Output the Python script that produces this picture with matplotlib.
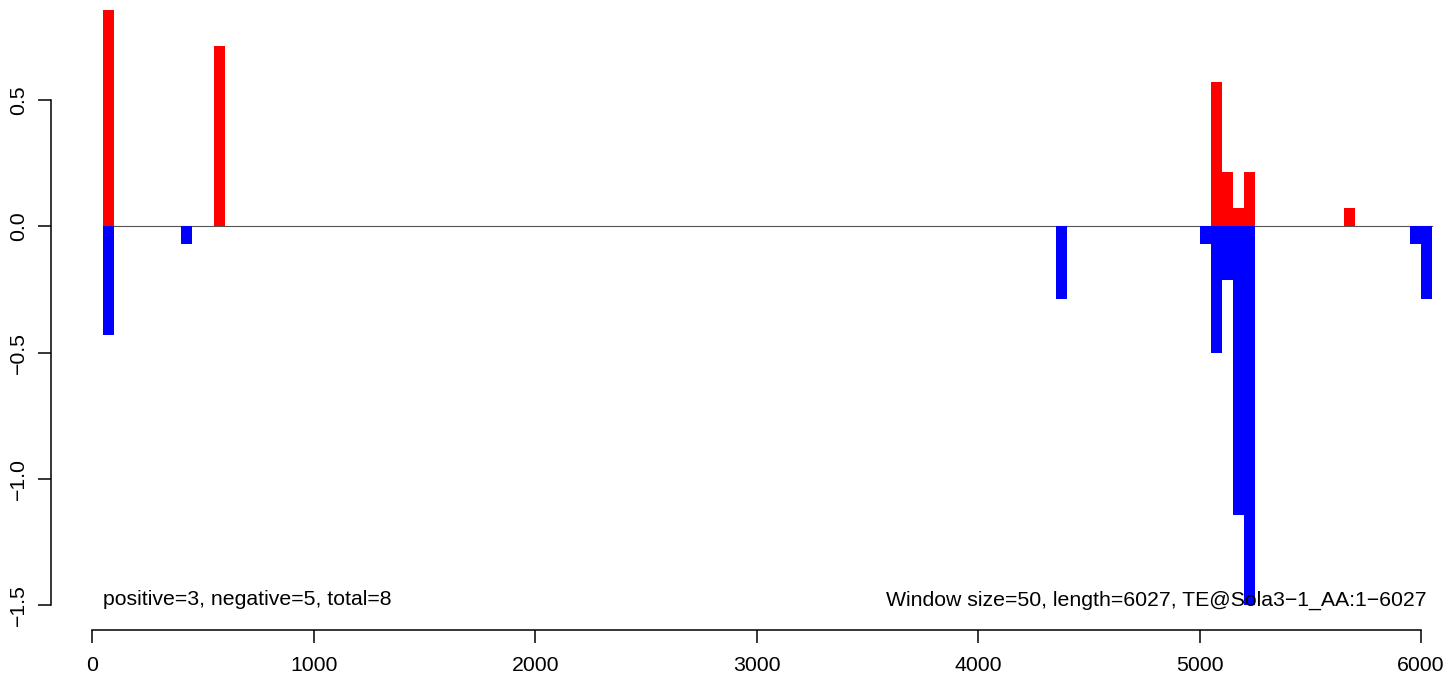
import numpy as np
import matplotlib
matplotlib.use("Agg")
import matplotlib.pyplot as plt

plt.rcParams['font.family'] = ['Liberation Sans', 'DejaVu Sans']

WINDOW = 50
SEQ_LEN = 6027

# window start positions and scores
pos_starts = [50, 550, 5050, 5100, 5150, 5200, 5650]
pos_values = [0.857, 0.714, 0.571, 0.214, 0.071, 0.214, 0.071]

neg_starts = [50, 400, 4350, 5000, 5050, 5100, 5150, 5200, 5950, 6000]
neg_values = [-0.429, -0.071, -0.286, -0.071, -0.5, -0.214, -1.143, -1.5, -0.071, -0.286]

x_ticks = [0, 1000, 2000, 3000, 4000, 5000, 6000]
y_ticks = [-1.5, -1.0, -0.5, 0.0, 0.5]

left_note = "positive=3, negative=5, total=8"
right_note = "Window size=50, length=6027, TE@Sola3\u22121_AA:1\u22126027"

FS = 15.3

W, H = 1449, 678
fig = plt.figure(figsize=(W / 100, H / 100), dpi=100)
# axes placed so that the spines sit where the reference draws its axes
ax = fig.add_axes([50.7 / W, 48 / H, (1447.6 - 50.7) / W, 630 / H])

# zero line first, bars on top
ax.plot([50, 6050], [0, 0], color="#555555", lw=0.8, zorder=1)
ax.bar(pos_starts, pos_values, width=WINDOW, align="edge", color="#ff0000",
       linewidth=0, zorder=2)
ax.bar(neg_starts, neg_values, width=WINDOW, align="edge", color="#0000ff",
       linewidth=0, zorder=2)

ax.text(50, -1.5, left_note, ha="left", va="baseline", fontsize=FS)
ax.text(SEQ_LEN, -1.5, right_note, ha="right", va="baseline", fontsize=FS)

ax.set_xlim(-188, 6120)
ax.set_ylim(-1.5976, 0.8955)

for side in ["top", "right"]:
    ax.spines[side].set_visible(False)
ax.spines["left"].set_bounds(-1.5, 0.5)
ax.spines["bottom"].set_bounds(0, 6000)
ax.spines["left"].set_linewidth(1.1)
ax.spines["bottom"].set_linewidth(1.1)

ax.set_xticks(x_ticks)
ax.set_xticklabels([str(t) for t in x_ticks])
ax.set_yticks(y_ticks)
ax.set_yticklabels([f"{t:.1f}".replace("-", "\u2212") for t in y_ticks],
                   rotation=90, va="center")
ax.tick_params(axis="both", length=9.5, width=1.1, labelsize=FS)
ax.tick_params(axis="x", pad=9.5)
ax.tick_params(axis="y", pad=7)

fig.savefig("out.png", dpi=100)
